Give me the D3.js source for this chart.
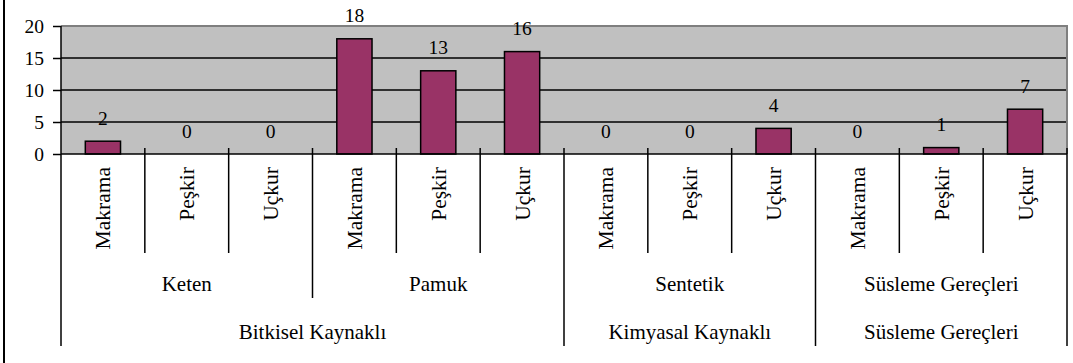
<!DOCTYPE html>
<html>
<head>
<meta charset="utf-8">
<script src="https://cdn.jsdelivr.net/npm/d3@7"></script>
<style>
  html, body { margin: 0; padding: 0; background: #fff; }
  svg { display: block; }
</style>
</head>
<body>
<svg id="chart" width="1073" height="363"></svg>
<script>
// Item type per bar (innermost axis level)
const items = ["Makrama", "Peşkir", "Uçkur", "Makrama", "Peşkir", "Uçkur",
               "Makrama", "Peşkir", "Uçkur", "Makrama", "Peşkir", "Uçkur"];
// Counts per bar
const counts = [2, 0, 0, 18, 13, 16, 0, 0, 4, 0, 1, 7];
// Material groups (middle axis level) and how many bars each covers
const materials = ["Keten", "Pamuk", "Sentetik", "Süsleme Gereçleri"];
const materialSpans = [3, 3, 3, 3];
// Source groups (outer axis level) and how many bars each covers
const sources = ["Bitkisel Kaynaklı", "Kimyasal Kaynaklı", "Süsleme Gereçleri"];
const sourceSpans = [6, 3, 3];
// Value axis ticks
const yTicks = [0, 5, 10, 15, 20];

const FONT = "Liberation Serif, DejaVu Serif, serif";

const svg = d3.select("#chart")
  .attr("font-family", FONT);

const plot = { left: 61, right: 1067, top: 26, bottom: 154 };
const x = d3.scaleBand().domain(d3.range(items.length)).range([plot.left, plot.right]);
const y = d3.scaleLinear().domain([0, 20]).range([plot.bottom, plot.top]);
const bw = x.bandwidth();

// Chart frame edge on the left
svg.append("line").attr("x1", 4).attr("x2", 4).attr("y1", 0).attr("y2", 363)
  .attr("stroke", "#000").attr("stroke-width", 2);

// Plot area background
svg.append("rect")
  .attr("x", plot.left).attr("y", y(20))
  .attr("width", plot.right - plot.left).attr("height", y(0) - y(20))
  .attr("fill", "#c0c0c0");

// Gridlines
svg.append("g").selectAll("line").data(yTicks.filter(t => t > 0 && t < 20)).join("line")
  .attr("x1", plot.left).attr("x2", plot.right)
  .attr("y1", d => y(d)).attr("y2", d => y(d))
  .attr("stroke", "#000").attr("stroke-width", 1.5);

// Plot border (top and right)
svg.append("path")
  .attr("d", `M${plot.left},${y(20)}H${plot.right}V${y(0)}`)
  .attr("fill", "none").attr("stroke", "#7f7f7f").attr("stroke-width", 2);

// Bars
const barW = bw * 0.42;
svg.append("g").selectAll("rect").data(counts).join("rect")
  .attr("x", (d, i) => x(i) + (bw - barW) / 2)
  .attr("y", d => y(d))
  .attr("width", barW)
  .attr("height", d => y(0) - y(d))
  .attr("fill", "#993366")
  .attr("stroke", "#000").attr("stroke-width", 1.5);

// Value labels
svg.append("g").selectAll("text").data(counts).join("text")
  .attr("x", (d, i) => x(i) + bw / 2)
  .attr("y", d => y(d) - 16.5)
  .attr("text-anchor", "middle")
  .attr("font-family", FONT)
  .attr("font-size", 19.5)
  .text(d => d);

// Y axis
const yAxis = d3.axisLeft(y).tickValues(yTicks).tickSize(8).tickPadding(9);
const gy = svg.append("g").attr("transform", `translate(${plot.left},0)`).call(yAxis)
  .attr("font-family", FONT).attr("font-size", 19.5);
gy.select(".domain").remove();
gy.selectAll(".tick line").attr("stroke", "#000").attr("stroke-width", 1.5);
gy.selectAll(".tick text").attr("fill", "#000");

// Axis lines
svg.append("line").attr("x1", plot.left).attr("x2", plot.left)
  .attr("y1", y(20)).attr("y2", y(0)).attr("stroke", "#000").attr("stroke-width", 1.5);
svg.append("line").attr("x1", plot.left).attr("x2", plot.right)
  .attr("y1", y(0)).attr("y2", y(0)).attr("stroke", "#000").attr("stroke-width", 1.5);

// Category boundary lines, length by hierarchy level
const materialEdges = new Set(d3.cumsum(materialSpans));
const sourceEdges = new Set([0, ...d3.cumsum(sourceSpans)]);
const boundaries = d3.range(items.length + 1).map(i => {
  let bottom = 253;
  if (sourceEdges.has(i)) bottom = 346;
  else if (materialEdges.has(i)) bottom = 298;
  const xp = i < items.length ? x(i) : plot.right;
  return { xp, bottom };
});
svg.append("g").selectAll("line").data(boundaries).join("line")
  .attr("x1", d => d.xp).attr("x2", d => d.xp)
  .attr("y1", (d, i) => (i === 0 ? y(0) : y(0) - 6)).attr("y2", d => d.bottom)
  .attr("stroke", "#000").attr("stroke-width", 1.5);

// Item labels (rotated)
svg.append("g").selectAll("text").data(items).join("text")
  .attr("transform", (d, i) => `translate(${x(i) + bw / 2},167) rotate(-90)`)
  .attr("text-anchor", "end")
  .attr("dy", "0.35em")
  .attr("font-family", FONT)
  .attr("font-size", 21.5)
  .text(d => d);

// Material labels
const matStarts = [0, ...d3.cumsum(materialSpans)];
svg.append("g").selectAll("text").data(materials).join("text")
  .attr("x", (d, i) => (x(matStarts[i]) + x(matStarts[i] + materialSpans[i] - 1) + bw) / 2)
  .attr("y", 291)
  .attr("text-anchor", "middle")
  .attr("font-family", FONT)
  .attr("font-size", 21)
  .text(d => d);

// Source labels
const srcStarts = [0, ...d3.cumsum(sourceSpans)];
svg.append("g").selectAll("text").data(sources).join("text")
  .attr("x", (d, i) => (x(srcStarts[i]) + x(srcStarts[i] + sourceSpans[i] - 1) + bw) / 2)
  .attr("y", 339)
  .attr("text-anchor", "middle")
  .attr("font-family", FONT)
  .attr("font-size", 21)
  .text(d => d);
</script>
</body>
</html>
